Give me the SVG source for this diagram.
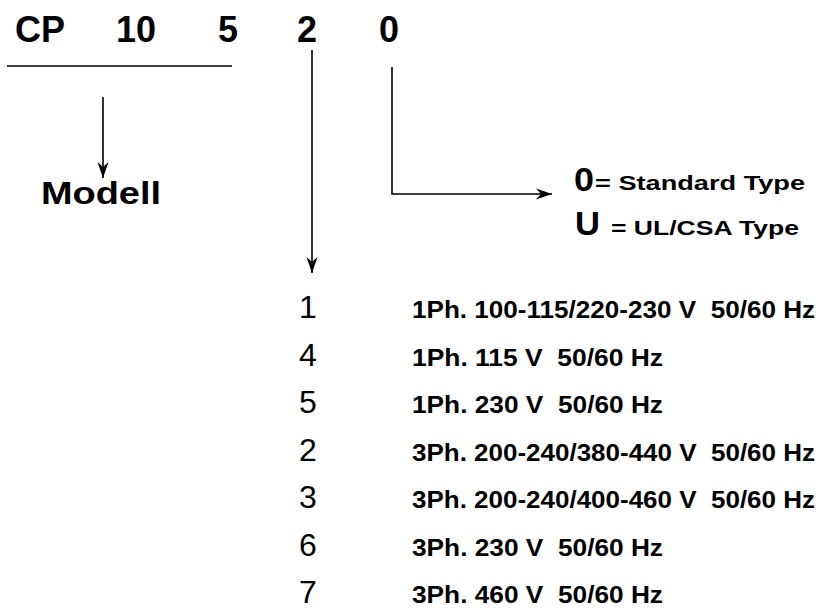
<svg xmlns="http://www.w3.org/2000/svg" width="819" height="612" viewBox="0 0 819 612">
<style>
.b{font-family:"Liberation Sans",Arial,sans-serif;font-weight:bold;fill:#000}
.r{font-family:"Liberation Sans",Arial,sans-serif;fill:#000}
.ln{stroke:#000;stroke-width:1.6;fill:none}
</style>
<defs>
<marker id="arr" viewBox="-17 -7 18 14" refX="0" refY="0" markerWidth="18" markerHeight="14" markerUnits="userSpaceOnUse" orient="auto">
<path d="M0,0 L-16,-5.5 L-11,0 L-16,5.5 Z" fill="#000"/>
</marker>
</defs>
<rect width="819" height="612" fill="#fff"/>
<g id="code">
<text class="b" x="15" y="42" font-size="36">CP</text>
<text class="b" x="116" y="42" font-size="36">10</text>
<text class="b" x="218" y="42" font-size="36">5</text>
<text class="b" x="297" y="42" font-size="36">2</text>
<text class="b" x="379" y="42" font-size="36">0</text>
</g>
<g id="connectors">
<line class="ln" x1="7" y1="66" x2="232" y2="66"/>
<line class="ln" x1="103" y1="97" x2="103" y2="178" marker-end="url(#arr)"/>
<line class="ln" x1="312" y1="50" x2="312" y2="273" marker-end="url(#arr)"/>
<polyline class="ln" points="392,67 392,194 552,194" marker-end="url(#arr)"/>
</g>
<g id="modell">
<text class="b" x="41" y="204" font-size="31" textLength="120" lengthAdjust="spacingAndGlyphs">Modell</text>
</g>
<g id="type">
<text class="b" x="574" y="191" font-size="33" textLength="20" lengthAdjust="spacingAndGlyphs">0</text>
<text class="b" x="595" y="190" font-size="21" textLength="210" lengthAdjust="spacingAndGlyphs">= Standard Type</text>
<text class="b" x="575" y="235" font-size="33" textLength="25" lengthAdjust="spacingAndGlyphs">U</text>
<text class="b" x="611" y="235" font-size="21" textLength="188" lengthAdjust="spacingAndGlyphs">= UL/CSA Type</text>
</g>
<g id="voltages">
<g id="v1"><text class="r" x="299" y="318" font-size="32">1</text><text class="b" x="412" y="318" font-size="23" xml:space="preserve" textLength="403" lengthAdjust="spacingAndGlyphs">1Ph. 100-115/220-230 V  50/60 Hz</text></g>
<g id="v4"><text class="r" x="299" y="365.5" font-size="32">4</text><text class="b" x="412" y="365.5" font-size="23" xml:space="preserve" textLength="251" lengthAdjust="spacingAndGlyphs">1Ph. 115 V  50/60 Hz</text></g>
<g id="v5"><text class="r" x="299" y="413" font-size="32">5</text><text class="b" x="412" y="413" font-size="23" xml:space="preserve" textLength="251" lengthAdjust="spacingAndGlyphs">1Ph. 230 V  50/60 Hz</text></g>
<g id="v2"><text class="r" x="299" y="460.5" font-size="32">2</text><text class="b" x="412" y="460.5" font-size="23" xml:space="preserve" textLength="403" lengthAdjust="spacingAndGlyphs">3Ph. 200-240/380-440 V  50/60 Hz</text></g>
<g id="v3"><text class="r" x="299" y="508" font-size="32">3</text><text class="b" x="412" y="508" font-size="23" xml:space="preserve" textLength="403" lengthAdjust="spacingAndGlyphs">3Ph. 200-240/400-460 V  50/60 Hz</text></g>
<g id="v6"><text class="r" x="299" y="555.5" font-size="32">6</text><text class="b" x="412" y="555.5" font-size="23" xml:space="preserve" textLength="251" lengthAdjust="spacingAndGlyphs">3Ph. 230 V  50/60 Hz</text></g>
<g id="v7"><text class="r" x="299" y="603" font-size="32">7</text><text class="b" x="412" y="603" font-size="23" xml:space="preserve" textLength="251" lengthAdjust="spacingAndGlyphs">3Ph. 460 V  50/60 Hz</text></g>
</g>
</svg>
